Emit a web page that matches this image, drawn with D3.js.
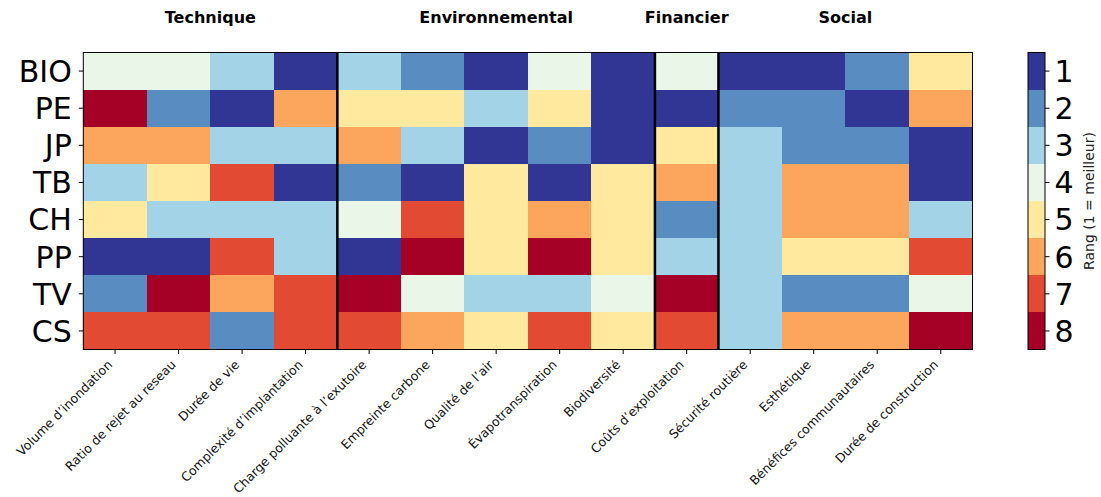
<!DOCTYPE html>
<html>
<head>
<meta charset="utf-8">
<script src="https://cdn.jsdelivr.net/npm/d3@7"></script>
<style>
  html, body { margin: 0; padding: 0; background: #fff; }
  svg { display: block; font-family: "DejaVu Sans", sans-serif; }
</style>
</head>
<body>
<svg id="chart" width="1101" height="497"></svg>
<script>
// ---- data ----
const alternatives = ["BIO", "PE", "JP", "TB", "CH", "PP", "TV", "CS"];
const criteria = [
  "Volume d\u2019inondation", "Ratio de rejet au reseau", "Durée de vie", "Complexité d\u2019implantation",
  "Charge polluante à l\u2019exutoire", "Empreinte carbone", "Qualité de l\u2019air", "Évapotranspiration", "Biodiversité",
  "Coûts d\u2019exploitation",
  "Sécurité routière", "Esthétique", "Bénéfices communautaires", "Durée de construction"
];
const groups = ["Technique", "Environnemental", "Financier", "Social"];
const groupSizes = [4, 5, 1, 4];
const rankBIO = [4, 4, 3, 1, 3, 2, 1, 4, 1, 4, 1, 1, 2, 5];
const rankPE  = [8, 2, 1, 6, 5, 5, 3, 5, 1, 1, 2, 2, 1, 6];
const rankJP  = [6, 6, 3, 3, 6, 3, 1, 2, 1, 5, 3, 2, 2, 1];
const rankTB  = [3, 5, 7, 1, 2, 1, 5, 1, 5, 6, 3, 6, 6, 1];
const rankCH  = [5, 3, 3, 3, 4, 7, 5, 6, 5, 2, 3, 6, 6, 3];
const rankPP  = [1, 1, 7, 3, 1, 8, 5, 8, 5, 3, 3, 5, 5, 7];
const rankTV  = [2, 8, 6, 7, 8, 4, 3, 3, 4, 8, 3, 2, 2, 4];
const rankCS  = [7, 7, 2, 7, 7, 6, 5, 7, 5, 7, 3, 6, 6, 8];
const ranks = [1, 2, 3, 4, 5, 6, 7, 8];
const rankRows = [rankBIO, rankPE, rankJP, rankTB, rankCH, rankPP, rankTV, rankCS];

// ---- style ----
const palette = ["#313695", "#598dc1", "#a3d3e6", "#e9f6e8", "#fee99e", "#fca55d", "#e34a33", "#a50026"];
const L = 83.3, R = 972.5, T = 52.5, B = 349.5;

const svg = d3.select("#chart");
const x = d3.scaleBand().domain(criteria).range([L, R]).padding(0);
const y = d3.scaleBand().domain(alternatives).range([T, B]).padding(0);
const color = d3.scaleOrdinal().domain(ranks).range(palette);

const cells = [];
alternatives.forEach((a, i) => criteria.forEach((c, j) => cells.push({ a, c, v: rankRows[i][j] })));

svg.append("g").attr("shape-rendering", "crispEdges").selectAll("rect").data(cells).join("rect")
  .attr("x", d => x(d.c)).attr("y", d => y(d.a))
  .attr("width", x.bandwidth() + 0.5).attr("height", y.bandwidth() + 0.5)
  .attr("fill", d => color(d.v));

// frame
svg.append("rect").attr("x", L).attr("y", T).attr("width", R - L).attr("height", B - T)
  .attr("fill", "none").attr("stroke", "#000").attr("stroke-width", 1);

// group separators and titles
let acc = 0;
groups.forEach((g, gi) => {
  const start = acc, end = acc + groupSizes[gi];
  const x0 = x(criteria[start]);
  const x1 = x(criteria[end - 1]) + x.bandwidth();
  svg.append("text").attr("x", (x0 + x1) / 2).attr("y", 23)
    .attr("text-anchor", "middle").attr("font-size", 16).attr("font-weight", "bold")
    .attr("fill", "#000").text(g);
  if (gi < groups.length - 1) {
    svg.append("line").attr("x1", x1).attr("x2", x1).attr("y1", T).attr("y2", B)
      .attr("stroke", "#000").attr("stroke-width", 2.5);
  }
  acc = end;
});

// left axis
const gy = svg.append("g").attr("transform", `translate(${L},0)`)
  .call(d3.axisLeft(y).tickSize(4.5).tickPadding(7));
gy.select(".domain").remove();
gy.selectAll(".tick line").attr("stroke", "#000").attr("stroke-width", 1);
gy.selectAll(".tick text").attr("font-size", 30).attr("fill", "#000")
  .attr("font-family", "DejaVu Sans").attr("dy", "0.36em");

// bottom axis
const gx = svg.append("g").attr("transform", `translate(0,${B})`)
  .call(d3.axisBottom(x).tickSize(4.5));
gx.select(".domain").remove();
gx.selectAll(".tick line").attr("stroke", "#000").attr("stroke-width", 1);
gx.selectAll(".tick text")
  .attr("font-size", 12.5).attr("fill", "#111").attr("font-family", "DejaVu Sans")
  .attr("text-anchor", "end").attr("x", 0).attr("y", 0).attr("dy", 0)
  .attr("transform", "translate(-2,16) rotate(-45)");

// colorbar
const cbL = 1028, cbW = 17;
const cy = d3.scaleBand().domain(ranks).range([T, B]).padding(0);
svg.append("g").attr("shape-rendering", "crispEdges").selectAll("rect").data(ranks).join("rect")
  .attr("x", cbL).attr("y", d => cy(d)).attr("width", cbW).attr("height", cy.bandwidth() + 0.5)
  .attr("fill", d => color(d));
svg.append("rect").attr("x", cbL).attr("y", T).attr("width", cbW).attr("height", B - T)
  .attr("fill", "none").attr("stroke", "#000").attr("stroke-width", 1);
const gc = svg.append("g").attr("transform", `translate(${cbL + cbW},0)`)
  .call(d3.axisRight(cy).tickSize(4.5).tickPadding(5));
gc.select(".domain").remove();
gc.selectAll(".tick line").attr("stroke", "#000");
gc.selectAll(".tick text").attr("font-size", 30).attr("fill", "#000")
  .attr("font-family", "DejaVu Sans").attr("dy", "0.36em");
svg.append("text").attr("transform", `translate(1094,${(T + B) / 2}) rotate(-90)`)
  .attr("text-anchor", "middle").attr("font-size", 14).attr("fill", "#222")
  .text("Rang (1 = meilleur)");
</script>
</body>
</html>
